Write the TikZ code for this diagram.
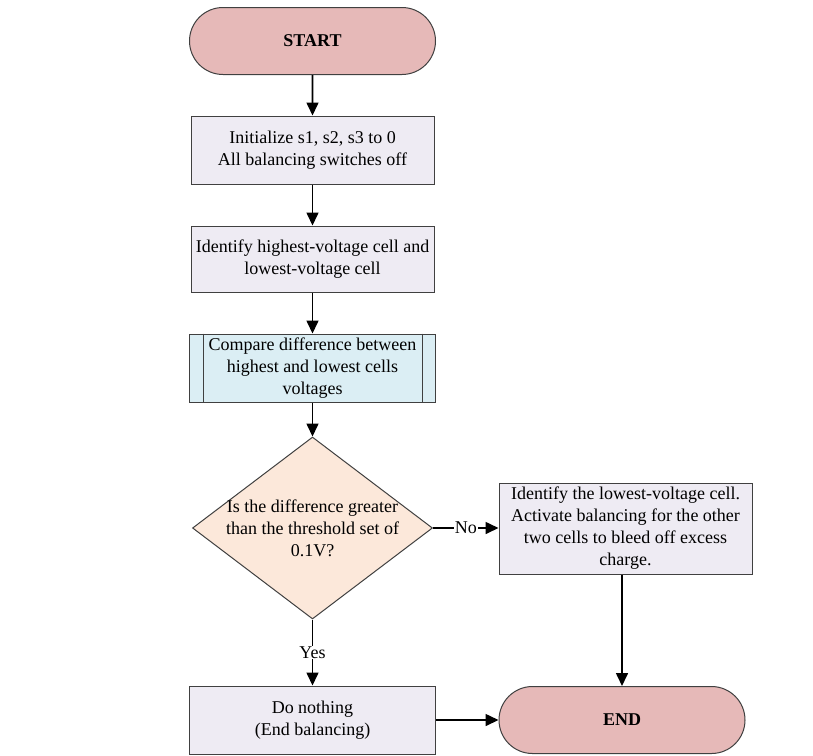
\documentclass[tikz,border=0pt]{standalone}
\usepackage{fontspec}
\setmainfont{Liberation Serif}
\usetikzlibrary{shapes.geometric,shapes.misc,arrows.meta}
\definecolor{termfill}{HTML}{E6B9B8}
\definecolor{procfill}{HTML}{EEEBF3}
\definecolor{predfill}{HTML}{DBEEF4}
\definecolor{decfill}{HTML}{FCE8DA}
\definecolor{edge}{HTML}{404040}
\begin{document}
\begin{tikzpicture}[x=1pt,y=-1pt,
  every node/.style={font=\fontsize{18}{22}\selectfont, text=black},
  terminal/.style={rounded rectangle, draw=edge, line width=1pt, fill=termfill,
    minimum width=246pt, minimum height=67pt, inner sep=0pt, font=\fontsize{18}{22}\selectfont\bfseries},
  procbox/.style={rectangle, draw=edge, line width=1pt, fill=procfill,
    inner sep=0pt, align=center},
  predbox/.style={rectangle, draw=edge, line width=1pt, fill=predfill,
    inner sep=0pt, align=center},
  decbox/.style={diamond, draw=edge, line width=1pt, fill=decfill,
    minimum width=240pt, minimum height=182pt, inner sep=0pt},
  flow/.style={draw=black, line width=1.6pt, -{Triangle[width=12pt,length=13pt]}},
  branch/.style={fill=white, inner sep=1pt}
]
\useasboundingbox (0,0) rectangle (813,755);

% nodes
\node[terminal] (start) at (312.5,41) {START};
\node[procbox, minimum width=243pt, minimum height=68pt] (init) at (312.5,150)
  {Initialize s1, s2, s3 to 0\\All balancing switches off};
\node[procbox, minimum width=243pt, minimum height=66pt] (ident) at (312.5,259)
  {Identify highest-voltage cell and\\lowest-voltage cell};
\node[predbox, minimum width=246pt, minimum height=68pt] (cmp) at (312.5,368)
  {Compare difference between\\highest and lowest cells\\voltages};
\draw[edge, line width=1pt] ([xshift=14pt]cmp.north west) -- ([xshift=14pt]cmp.south west);
\draw[edge, line width=1pt] ([xshift=-14pt]cmp.north east) -- ([xshift=-14pt]cmp.south east);
\node[decbox] (dec) at (312.5,528) {};
\node[align=center] (dectext) at (312.5,528)
  {Is the difference greater\\than the threshold set of\\0.1V?};
\node[procbox, minimum width=253pt, minimum height=91pt] (act) at (625.5,528.5)
  {Identify the lowest-voltage cell.\\Activate balancing for the other\\two cells to bleed off excess\\charge.};
\node[procbox, minimum width=246pt, minimum height=68pt] (none) at (312.5,720)
  {Do nothing\\(End balancing)};
\node[terminal] (end) at (622,720) {END};

% connectors
\draw[flow] (start) -- (init);
\draw[flow] (init) -- (ident);
\draw[flow] (ident) -- (cmp);
\draw[flow] (cmp) -- (dec.north);
\draw[flow] (dec.east) -- node[branch, pos=0.5] (nolbl) {No} (dec.east -| act.west);
\draw[flow] (dec.south) -- node[branch, pos=0.5] (yeslbl) {Yes} (none.north);
\draw[flow] (end.north |- act.south) -- (end.north);
\draw[flow] (none.east) -- (end.west);
\end{tikzpicture}
\end{document}
